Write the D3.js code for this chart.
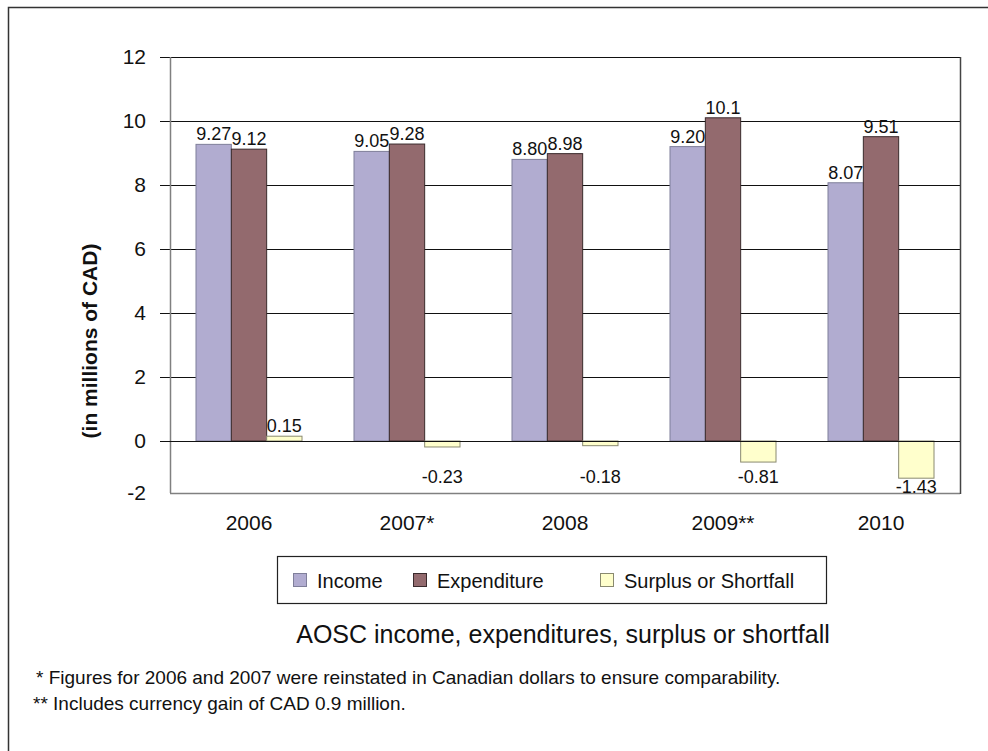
<!DOCTYPE html>
<html>
<head>
<meta charset="utf-8">
<script src="https://cdn.jsdelivr.net/npm/d3@7"></script>
<style>
  html, body { margin: 0; padding: 0; background: #fff; }
  svg { display: block; font-family: "Liberation Sans", Arial, sans-serif; }
</style>
</head>
<body>
<svg id="chart" width="988" height="751"></svg>
<script>
// AOSC finances, in millions of CAD
const years = ["2006", "2007*", "2008", "2009**", "2010"];
const income = [9.27, 9.05, 8.80, 9.20, 8.07];
const expenditure = [9.12, 9.28, 8.98, 10.1, 9.51];
const surplus = [0.15, -0.23, -0.18, -0.81, -1.43];
const incomeLabels = ["9.27", "9.05", "8.80", "9.20", "8.07"];
const expenditureLabels = ["9.12", "9.28", "8.98", "10.1", "9.51"];
const surplusLabels = ["0.15", "-0.23", "-0.18", "-0.81", "-1.43"];
const yTicks = [-2, 0, 2, 4, 6, 8, 10, 12];
const seriesNames = ["Income", "Expenditure", "Surplus or Shortfall"];

const colors = ["#b1acd0", "#936a6e", "#ffffcc"];
const strokes = ["#7f7f9a", "#3a2a2c", "#8a8a70"];

const svg = d3.select("#chart");

// outer frame (top and left edges)
svg.append("path")
  .attr("d", "M8.5,751 L8.5,7.5 L988,7.5")
  .attr("fill", "none").attr("stroke", "#333").attr("stroke-width", 1.5);

const plot = { left: 170, right: 960, top: 57, bottom: 493 };

const x = d3.scaleBand().domain(years).range([plot.left, plot.right]).paddingInner(0).paddingOuter(0);
const groupW = 106;
const xs = d3.scaleBand().domain(seriesNames).range([0, groupW]).padding(0);
// the negative part of the axis is drawn a little tighter than the positive part
const y = d3.scaleLinear().domain([-2, 0, 12]).range([plot.bottom, 441, plot.top]);

const g = svg.append("g");

// gridlines with tick stubs to the left of the axis
g.selectAll("line.grid").data(yTicks.filter(t => t >= 0)).join("line")
  .attr("x1", plot.left - 10).attr("x2", plot.right)
  .attr("y1", d => Math.round(y(d)) + 0.5).attr("y2", d => Math.round(y(d)) + 0.5)
  .attr("stroke", "#111").attr("stroke-width", 1);

// y axis labels
g.selectAll("text.ytick").data(yTicks).join("text")
  .attr("x", 146).attr("y", d => y(d) + 7)
  .attr("text-anchor", "end")
  .attr("font-size", 21).attr("fill", "#111")
  .text(d => d);

// left axis, bottom axis, right border
g.append("line").attr("x1", plot.left + 0.5).attr("x2", plot.left + 0.5)
  .attr("y1", plot.top).attr("y2", plot.bottom).attr("stroke", "#808080").attr("stroke-width", 1.5);
g.append("line").attr("x1", plot.left).attr("x2", plot.right)
  .attr("y1", plot.bottom + 0.5).attr("y2", plot.bottom + 0.5).attr("stroke", "#808080").attr("stroke-width", 1.5);
g.append("line").attr("x1", plot.right + 0.5).attr("x2", plot.right + 0.5)
  .attr("y1", plot.top).attr("y2", plot.bottom + 1).attr("stroke", "#444").attr("stroke-width", 1.5);

// y axis title
svg.append("text")
  .attr("transform", `translate(97,341) rotate(-90)`)
  .attr("text-anchor", "middle")
  .attr("font-size", 21).attr("font-weight", "bold").attr("fill", "#111")
  .text("(in millions of CAD)");

const series = [income, expenditure, surplus];
const labels = [incomeLabels, expenditureLabels, surplusLabels];

const groups = g.selectAll("g.year").data(years).join("g")
  .attr("transform", d => `translate(${x(d) + (x.bandwidth() - groupW) / 2},0)`);

series.forEach((vals, si) => {
  groups.append("rect")
    .attr("x", xs(seriesNames[si]))
    .attr("width", xs.bandwidth())
    .attr("y", (d, i) => Math.min(y(vals[i]), y(0)))
    .attr("height", (d, i) => Math.abs(y(vals[i]) - y(0)))
    .attr("fill", colors[si]).attr("stroke", strokes[si]).attr("stroke-width", 1);
});

// zero line on top of the bars
g.append("line").attr("x1", plot.left - 10).attr("x2", plot.right)
  .attr("y1", Math.round(y(0)) + 0.5).attr("y2", Math.round(y(0)) + 0.5)
  .attr("stroke", "#111").attr("stroke-width", 1);

// value labels
series.forEach((vals, si) => {
  groups.append("text")
    .attr("x", xs(seriesNames[si]) + xs.bandwidth() / 2)
    .attr("y", (d, i) => vals[i] >= 0 ? y(vals[i]) - 4 : Math.max(y(vals[i]) + 15, y(0) + 42))
    .attr("text-anchor", "middle")
    .attr("font-size", 18).attr("fill", "#111")
    .text((d, i) => labels[si][i]);
});

// category labels
g.selectAll("text.xlab").data(years).join("text")
  .attr("x", d => x(d) + x.bandwidth() / 2)
  .attr("y", 530)
  .attr("text-anchor", "middle")
  .attr("font-size", 21).attr("fill", "#111")
  .text(d => d);

// legend
const legend = svg.append("g");
legend.append("rect").attr("x", 277.5).attr("y", 556.5).attr("width", 549).attr("height", 47)
  .attr("fill", "#fff").attr("stroke", "#222").attr("stroke-width", 1.2);
const legX = [293, 413, 600];
seriesNames.forEach((name, i) => {
  legend.append("rect").attr("x", legX[i] + 0.5).attr("y", 573.5).attr("width", 13).attr("height", 13)
    .attr("fill", colors[i]).attr("stroke", strokes[i]);
  legend.append("text").attr("x", legX[i] + 24).attr("y", 588)
    .attr("font-size", 20).attr("fill", "#111").text(name);
});

// caption
svg.append("text").attr("x", 563).attr("y", 643).attr("text-anchor", "middle")
  .attr("font-size", 25).attr("fill", "#111")
  .text("AOSC income, expenditures, surplus or shortfall");

// footnotes
svg.append("text").attr("x", 36).attr("y", 684)
  .attr("font-size", 19).attr("fill", "#111")
  .text("* Figures for 2006 and 2007 were reinstated in Canadian dollars to ensure comparability.");
svg.append("text").attr("x", 33).attr("y", 710)
  .attr("font-size", 19).attr("fill", "#111")
  .text("** Includes currency gain of CAD 0.9 million.");
</script>
</body>
</html>
